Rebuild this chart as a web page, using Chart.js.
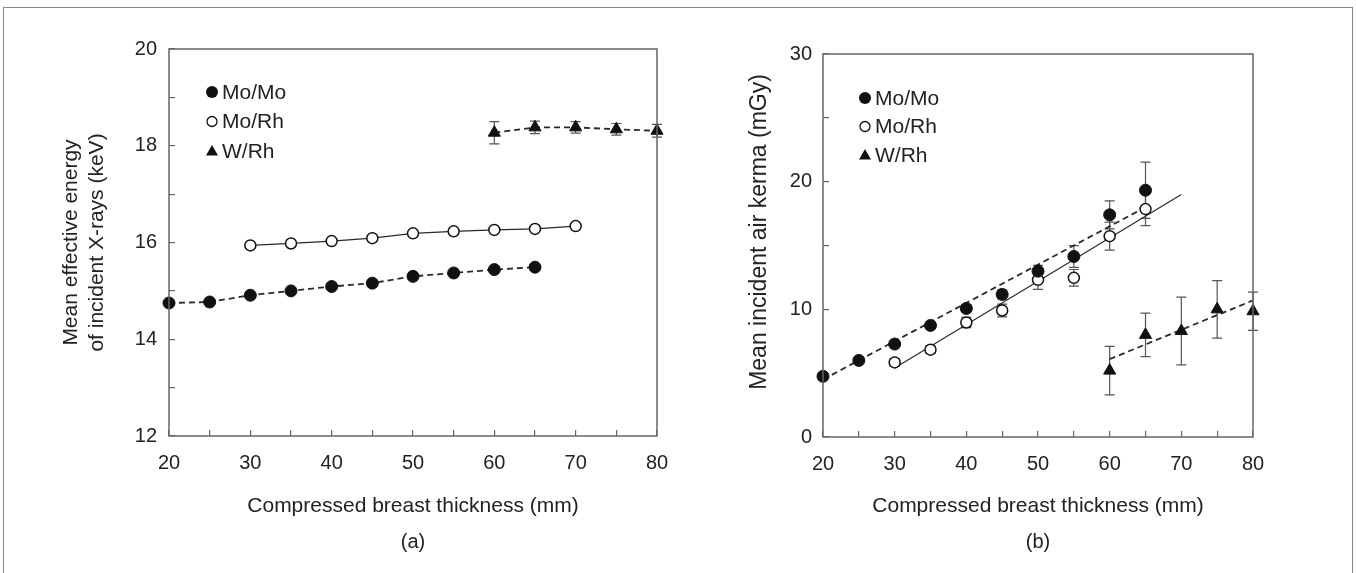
<!DOCTYPE html>
<html>
<head>
<meta charset="utf-8">
<script src="https://cdn.jsdelivr.net/npm/chart.js@4/dist/chart.umd.min.js"></script>
<style>
html, body { margin: 0; padding: 0; background: #fff; }
#wrap { position: relative; width: 1356px; height: 573px; overflow: hidden; }
#frame { position: absolute; left: 3px; top: 7px; width: 1350px; height: 580px; border: 1.5px solid #888; box-sizing: border-box; }
#left { position: absolute; left: 0; top: 0; }
#right { position: absolute; left: 700px; top: 0; }
.panel { position: absolute; top: 528px; width: 100px; text-align: center; font: 20px "Liberation Sans", Arial, sans-serif; color: #222; line-height: 26px; }
</style>
</head>
<body>
<div id="wrap">
  <div id="frame"></div>
  <canvas id="left" width="700" height="573"></canvas>
  <canvas id="right" width="656" height="573"></canvas>
  <div class="panel" style="left:363px">(a)</div>
  <div class="panel" style="left:988px">(b)</div>
</div>
<script>
// (a) mean effective energy of incident X-rays (keV)
var energyMoMoX = [20, 25, 30, 35, 40, 45, 50, 55, 60, 65]
var energyMoMo = [14.75, 14.77, 14.91, 15.0, 15.09, 15.16, 15.30, 15.37, 15.44, 15.49]
var energyMoMoErr = [0.04, 0.04, 0.05, 0.05, 0.05, 0.06, 0.05, 0.05, 0.06, 0.05]
var energyMoRhX = [30, 35, 40, 45, 50, 55, 60, 65, 70]
var energyMoRh = [15.94, 15.98, 16.03, 16.09, 16.19, 16.23, 16.26, 16.28, 16.34]
var energyMoRhErr = [0.04, 0.04, 0.04, 0.04, 0.05, 0.05, 0.05, 0.05, 0.04]
var energyWRhX = [60, 65, 70, 75, 80]
var energyWRh = [18.27, 18.38, 18.38, 18.34, 18.31]
var energyWRhErr = [0.23, 0.13, 0.12, 0.12, 0.13]

// (b) mean incident air kerma (mGy)
var kermaMoMoX = [20, 25, 30, 35, 40, 45, 50, 55, 60, 65]
var kermaMoMo = [4.75, 6.0, 7.28, 8.74, 10.07, 11.17, 12.99, 14.14, 17.4, 19.33]
var kermaMoMoErr = [0.2, 0.2, 0.25, 0.25, 0.3, 0.35, 0.45, 0.85, 1.1, 2.2]
var kermaMoRhX = [30, 35, 40, 45, 50, 55, 60, 65]
var kermaMoRh = [5.84, 6.84, 8.97, 9.91, 12.31, 12.47, 15.73, 17.85]
var kermaMoRhErr = [0.3, 0.3, 0.4, 0.5, 0.75, 0.65, 1.1, 1.3]
var kermaWRhX = [60, 65, 70, 75, 80]
var kermaWRh = [5.2, 8.0, 8.3, 10.0, 9.85]
var kermaWRhErr = [1.9, 1.7, 2.65, 2.25, 1.5]

// fitted lines in (b), end points
var fitMoMoX = [20, 65]
var fitMoMo = [4.5, 18.0]
var fitMoRhX = [30, 70]
var fitMoRh = [5.4, 19.0]
var fitWRhX = [60, 80]
var fitWRh = [6.1, 10.7]

var legendNames = ['Mo/Mo', 'Mo/Rh', 'W/Rh']

var FONT = '"Liberation Sans", Arial, sans-serif'
Chart.defaults.font.family = FONT
Chart.defaults.color = '#222'

function pts(xs, ys){
  return xs.map(function(x, i){ return {x: x, y: ys[i]} })
}

var INK = '#111'
var LINE = '#2a2a2a'

function markerStyle(kind){
  if(kind == 0) return {pointStyle: 'circle', pointRadius: 6, pointBackgroundColor: INK, pointBorderColor: INK, pointBorderWidth: 1}
  if(kind == 1) return {pointStyle: 'circle', pointRadius: 5.5, pointBackgroundColor: '#fff', pointBorderColor: INK, pointBorderWidth: 1.5}
  return {pointStyle: 'triangle', pointRadius: 7, pointBackgroundColor: INK, pointBorderColor: INK, pointBorderWidth: 1}
}

function series(xs, ys, errs, kind, line, dashed){
  var ds = {
    data: pts(xs, ys),
    errors: errs,
    showLine: line,
    borderColor: LINE,
    borderWidth: dashed ? 1.8 : 1.2,
    borderDash: dashed ? [6, 4] : [],
    clip: false,
    order: 1
  }
  return Object.assign(ds, markerStyle(kind))
}

function fitLine(xs, ys, dashed){
  return {
    data: pts(xs, ys),
    showLine: true,
    pointRadius: 0,
    borderColor: LINE,
    borderWidth: dashed ? 1.8 : 1.2,
    borderDash: dashed ? [6, 4] : [],
    clip: false,
    order: 2
  }
}

// error bars, drawn under the markers
var errorBars = {
  id: 'errorBars',
  beforeDatasetsDraw: function(chart){
    var ctx = chart.ctx
    var xs = chart.scales.x, ys = chart.scales.y
    ctx.save()
    ctx.strokeStyle = '#555'
    ctx.lineWidth = 1.2
    chart.data.datasets.forEach(function(ds){
      if(!ds.errors) return
      ds.data.forEach(function(p, i){
        var e = ds.errors[i]
        var px = xs.getPixelForValue(p.x)
        var top = ys.getPixelForValue(p.y + e)
        var bot = ys.getPixelForValue(p.y - e)
        ctx.beginPath()
        ctx.moveTo(px, top); ctx.lineTo(px, bot)
        ctx.moveTo(px - 5, top); ctx.lineTo(px + 5, top)
        ctx.moveTo(px - 5, bot); ctx.lineTo(px + 5, bot)
        ctx.stroke()
      })
    })
    ctx.restore()
  }
}

// plot box
var plotBox = {
  id: 'plotBox',
  afterDraw: function(chart){
    var a = chart.chartArea, ctx = chart.ctx
    ctx.save()
    ctx.strokeStyle = '#666'
    ctx.lineWidth = 1.5
    ctx.strokeRect(a.left, a.top, a.right - a.left, a.bottom - a.top)
    ctx.restore()
  }
}

// vertical axis title placed by hand (the original sits a little above centre)
var sideTitle = {
  id: 'sideTitle',
  afterDraw: function(chart, args, opts){
    if(!opts.text) return
    var ctx = chart.ctx
    ctx.save()
    ctx.translate(opts.x, opts.y)
    ctx.rotate(-Math.PI / 2)
    ctx.font = opts.size + 'px ' + FONT
    ctx.fillStyle = '#222'
    ctx.textAlign = 'center'
    ctx.textBaseline = 'middle'
    ctx.fillText(opts.text, 0, 0)
    ctx.restore()
  }
}

function drawMarker(ctx, kind, x, y){
  ctx.beginPath()
  if(kind == 2){
    ctx.moveTo(x, y - 6); ctx.lineTo(x + 6, y + 4.5); ctx.lineTo(x - 6, y + 4.5); ctx.closePath()
    ctx.fillStyle = INK; ctx.fill()
  } else {
    ctx.arc(x, y, kind == 0 ? 6 : 5, 0, Math.PI * 2)
    if(kind == 0){ ctx.fillStyle = INK; ctx.fill() }
    else { ctx.fillStyle = '#fff'; ctx.fill(); ctx.lineWidth = 1.3; ctx.strokeStyle = INK; ctx.stroke() }
  }
}

var boxLegend = {
  id: 'boxLegend',
  afterDraw: function(chart, args, opts){
    var a = chart.chartArea, ctx = chart.ctx
    ctx.save()
    ctx.font = '21px ' + FONT
    ctx.textBaseline = 'middle'
    ctx.textAlign = 'left'
    legendNames.forEach(function(name, i){
      var x = a.left + opts.dx
      var y = a.top + opts.dy + i * opts.gap
      drawMarker(ctx, i, x, y)
      ctx.fillStyle = '#222'
      ctx.fillText(name, x + 10, y + 1)
    })
    ctx.restore()
  }
}

function axes(o){
  return {
    x: {
      type: 'linear', min: 20, max: 80,
      afterFit: function(s){ s.height = o.xh },
      border: {display: false},
      grid: {drawOnChartArea: false, drawTicks: true, tickLength: -6, color: '#666', lineWidth: 1.2},
      ticks: {stepSize: 5, autoSkip: false, maxRotation: 0, padding: 21, font: {size: 20}, color: '#222',
        callback: function(v){ return v % 10 === 0 ? v : '' }},
      title: {display: true, text: 'Compressed breast thickness (mm)', font: {size: 21}, color: '#222', padding: {top: 0, bottom: 54}}
    },
    y: {
      type: 'linear', min: o.ymin, max: o.ymax,
      afterFit: function(s){ s.width = o.yw },
      border: {display: false},
      grid: {drawOnChartArea: false, drawTicks: true, tickLength: -6, color: '#666', lineWidth: 1.2},
      ticks: {stepSize: o.step, autoSkip: false, padding: o.ypad, font: {size: 20}, color: '#222',
        callback: function(v){ return v % o.labelEvery === 0 ? v : '' }},
      title: {display: !!o.ytitle, text: o.ytitle || '', font: {size: 21, lineHeight: 1.2}, color: '#222', padding: {top: o.tpad, bottom: 0}}
    }
  }
}

var leftChart = new Chart(document.getElementById('left'), {
  type: 'scatter',
  data: {
    datasets: [
      series(energyMoMoX, energyMoMo, energyMoMoErr, 0, true, true),
      series(energyMoRhX, energyMoRh, energyMoRhErr, 1, true, false),
      series(energyWRhX, energyWRh, energyWRhErr, 2, true, true)
    ]
  },
  options: {
    responsive: false,
    animation: false,
    events: [],
    layout: {padding: {left: 0, top: 49, right: 43, bottom: 0}},
    scales: axes({ymin: 12, ymax: 20, step: 1, labelEvery: 2, yw: 169, xh: 137, ypad: 18, tpad: 59,
      ytitle: ['Mean effective energy', 'of incident X-rays (keV)']}),
    plugins: {
      legend: {display: false},
      tooltip: {enabled: false},
      boxLegend: {dx: 43, dy: 43, gap: 29.5},
      sideTitle: {}
    }
  },
  plugins: [errorBars, plotBox, boxLegend, sideTitle]
})

var rightChart = new Chart(document.getElementById('right'), {
  type: 'scatter',
  data: {
    datasets: [
      series(kermaMoMoX, kermaMoMo, kermaMoMoErr, 0, false, false),
      series(kermaMoRhX, kermaMoRh, kermaMoRhErr, 1, false, false),
      series(kermaWRhX, kermaWRh, kermaWRhErr, 2, false, false),
      fitLine(fitMoMoX, fitMoMo, true),
      fitLine(fitMoRhX, fitMoRh, false),
      fitLine(fitWRhX, fitWRh, true)
    ]
  },
  options: {
    responsive: false,
    animation: false,
    events: [],
    layout: {padding: {left: 0, top: 54, right: 103, bottom: 0}},
    scales: axes({ymin: 0, ymax: 30, step: 5, labelEvery: 10, yw: 123, xh: 136, ypad: 17, tpad: 0, ytitle: null}),
    plugins: {
      legend: {display: false},
      tooltip: {enabled: false},
      boxLegend: {dx: 42, dy: 44, gap: 28.5},
      sideTitle: {text: 'Mean incident air kerma (mGy)', x: 60, y: 232, size: 23}
    }
  },
  plugins: [errorBars, plotBox, boxLegend, sideTitle]
})
</script>
</body>
</html>
